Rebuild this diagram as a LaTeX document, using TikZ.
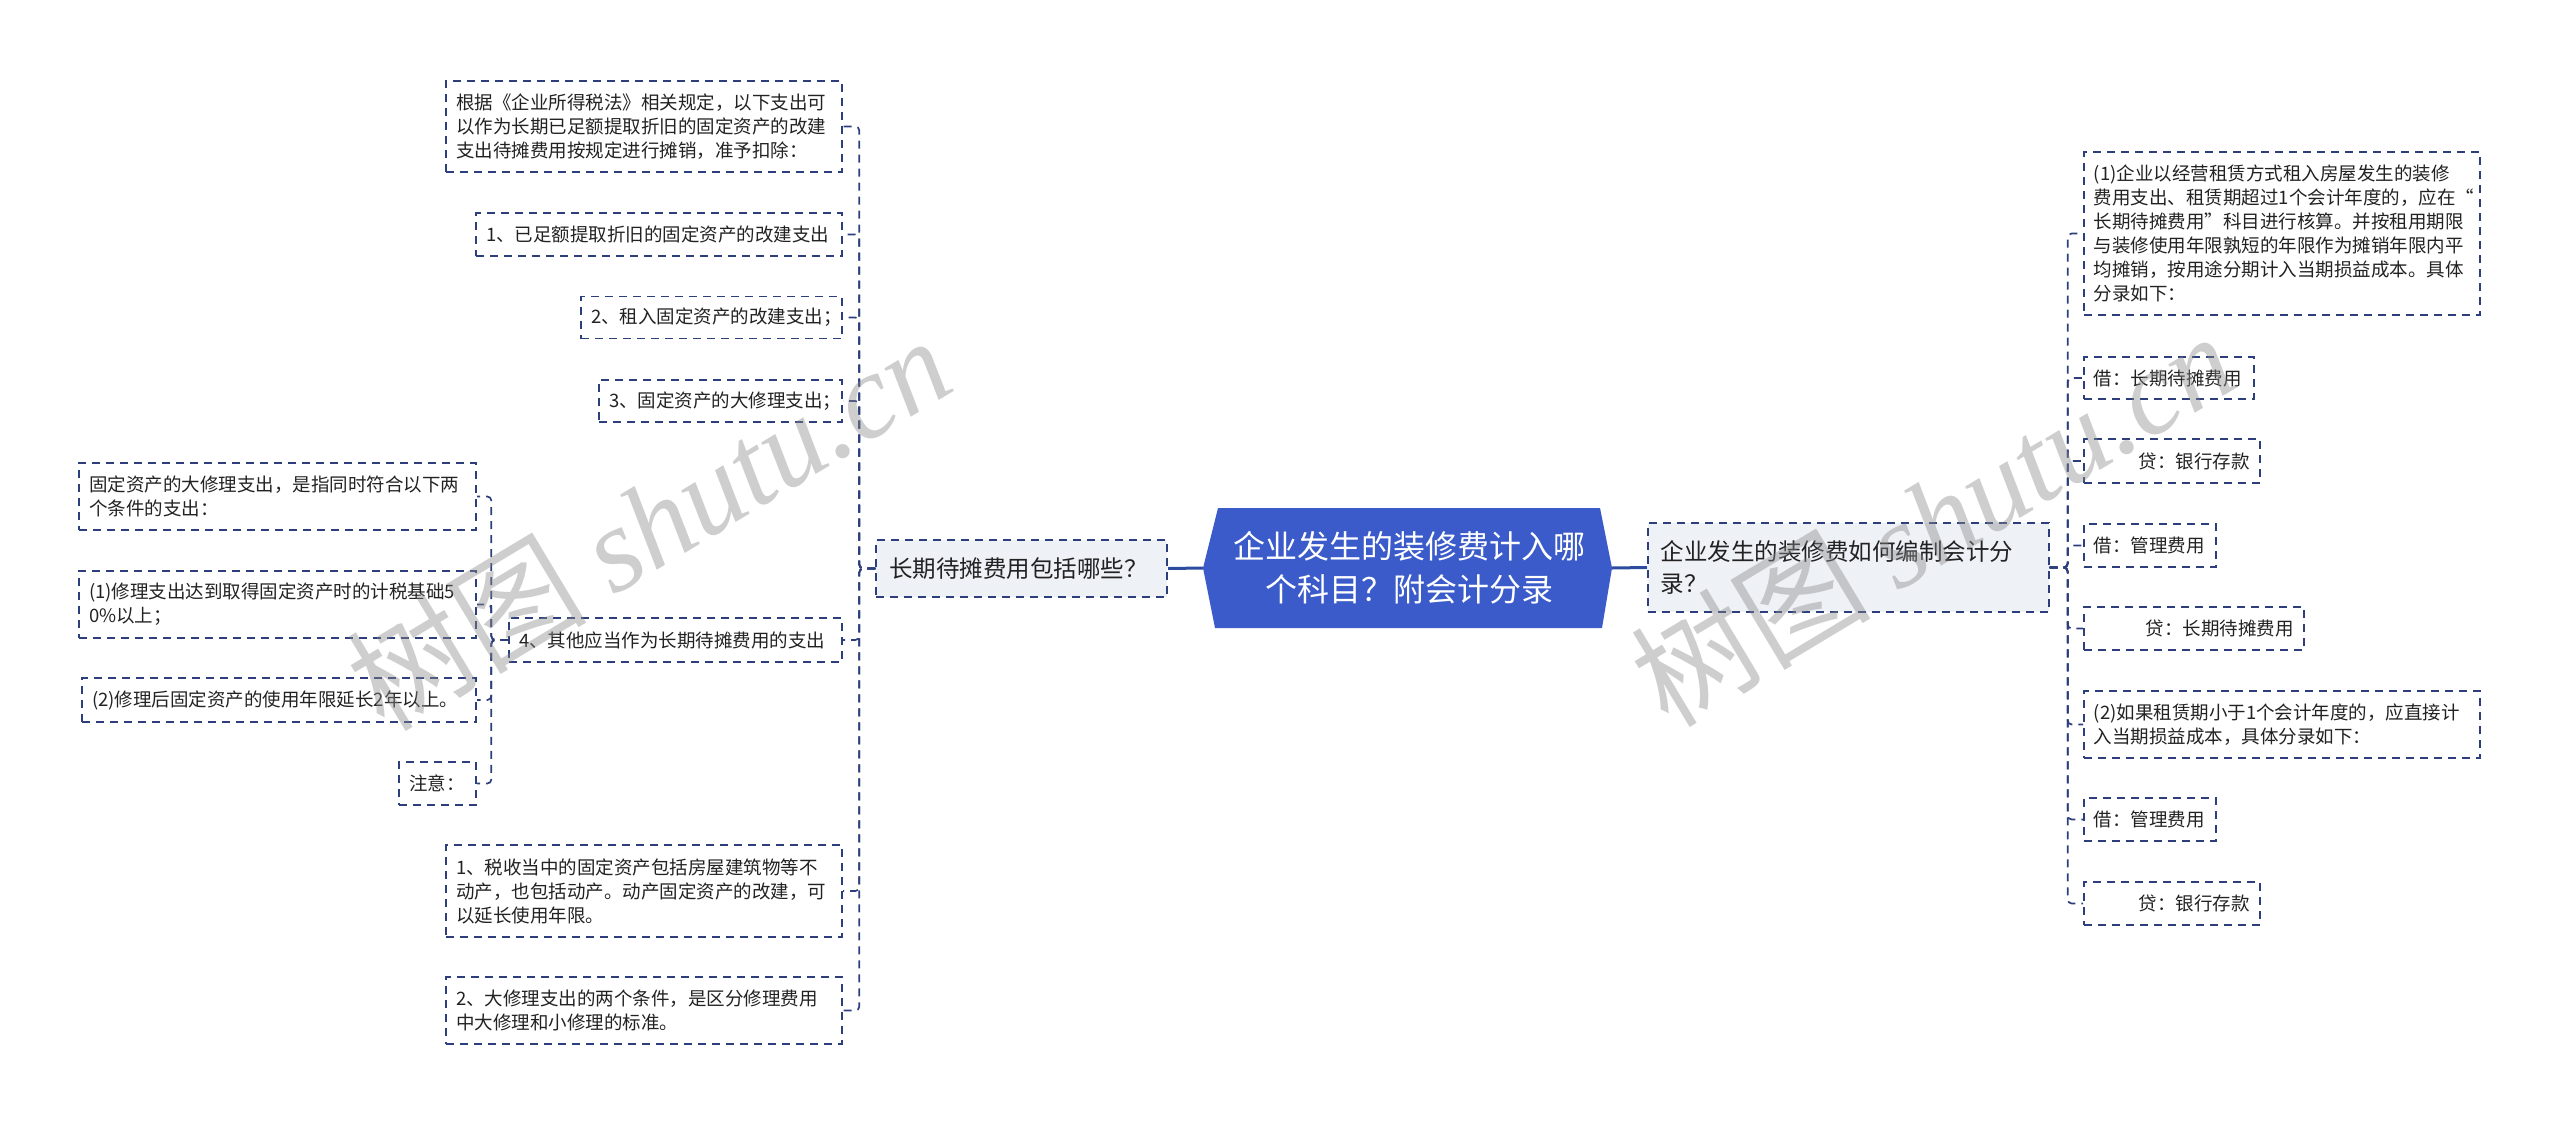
\documentclass[tikz,border=0pt]{standalone}
\usepackage{fontspec}
\setmainfont{Noto Sans CJK SC}
\newfontfamily\wmfont{Liberation Serif}
\usetikzlibrary{calc}
\definecolor{hexblue}{HTML}{3A5BC9}
\definecolor{linkblue}{HTML}{2E4C9E}
\definecolor{dashblue}{HTML}{2C3F7C}
\definecolor{lvfill}{HTML}{EEF1F6}
\definecolor{wmgray}{HTML}{8A8A8A}
\definecolor{txt}{HTML}{222222}
\tikzset{
  leaf/.style={draw=dashblue, line width=1.7pt, dash pattern=on 8pt off 6pt,
    inner xsep=10pt, inner ysep=0pt, align=left, text=txt,
    font=\fontsize{18.5}{24}\selectfont},
  rleaf/.style={leaf, align=right},
  lv/.style={draw=dashblue, fill=lvfill, line width=1.7pt, dash pattern=on 8pt off 6pt,
    inner xsep=13pt, inner ysep=0pt, align=left, text=txt,
    font=\fontsize{23.5}{32}\selectfont},
  conn/.style={draw=dashblue, line width=1.7pt, dash pattern=on 8pt off 6pt, rounded corners=4pt},
  mainlink/.style={draw=linkblue, line width=3pt},
  wm/.style={rotate=31, text=wmgray, opacity=0.42, font=\fontsize{120}{120}\selectfont}
}
\begin{document}
\begin{tikzpicture}[x=1pt,y=-1pt]
\useasboundingbox (0,0) rectangle (2560,1125);

% central hexagon
\fill[hexblue] (1203,568) -- (1218,508) -- (1600,508) -- (1612,568) -- (1602,628) -- (1215,628) -- cycle;
\coordinate (rootL) at (1203,568);
\coordinate (rootR) at (1612,568);
\node[text=white, align=center, font=\fontsize{32}{43}\selectfont, inner sep=0pt] (root) at (1409,568)
  {企业发生的装修费计入哪\\个科目？附会计分录};

% level 1
\node[lv, text width=265pt, minimum height=57pt, anchor=east] (L) at (1168,568.5) {长期待摊费用包括哪些？};
\node[lv, text width=375pt, minimum height=89pt, anchor=west] (R) at (1647,567.5) {企业发生的装修费如何编制会计分\\录？};

\draw[mainlink] (rootL) -- (L.east);
\draw[mainlink] (rootR) -- (R.west);

% left children
\node[leaf, text width=376pt, minimum height=91pt, anchor=east] (n1) at (843,126.5)
  {根据《企业所得税法》相关规定，以下支出可\\以作为长期已足额提取折旧的固定资产的改建\\支出待摊费用按规定进行摊销，准予扣除：};
\node[leaf, text width=346pt, minimum height=43pt, anchor=east] (n2) at (843,234.5)
  {1、已足额提取折旧的固定资产的改建支出};
\node[leaf, text width=241pt, minimum height=42pt, anchor=east] (n3) at (843,317.5)
  {2、租入固定资产的改建支出；};
\node[leaf, text width=223pt, minimum height=42pt, anchor=east] (n4) at (843,401)
  {3、固定资产的大修理支出；};
\node[leaf, text width=313pt, minimum height=44pt, anchor=east] (n5) at (843,640)
  {4、其他应当作为长期待摊费用的支出};
\node[leaf, text width=376pt, minimum height=92pt, anchor=east] (n6) at (843,891)
  {1、税收当中的固定资产包括房屋建筑物等不\\动产，也包括动产。动产固定资产的改建，可\\以延长使用年限。};
\node[leaf, text width=376pt, minimum height=67pt, anchor=east] (n7) at (843,1010.5)
  {2、大修理支出的两个条件，是区分修理费用\\中大修理和小修理的标准。};

% sub-children of n5
\node[leaf, text width=377pt, minimum height=67pt, anchor=east] (s1) at (477,496.5)
  {固定资产的大修理支出，是指同时符合以下两\\个条件的支出：};
\node[leaf, text width=377pt, minimum height=67pt, anchor=east] (s2) at (477,604.5)
  {(1)修理支出达到取得固定资产时的计税基础5\\0\%以上；};
\node[leaf, text width=374pt, minimum height=44pt, anchor=east] (s3) at (477,700)
  {(2)修理后固定资产的使用年限延长2年以上。};
\node[leaf, text width=57pt, minimum height=43pt, anchor=east] (s4) at (477,783.5)
  {注意：};

% right children
\node[leaf, text width=376pt, minimum height=163pt, anchor=west] (r1) at (2083,233.5)
  {(1)企业以经营租赁方式租入房屋发生的装修\\费用支出、租赁期超过1个会计年度的，应在“\\长期待摊费用”科目进行核算。并按租用期限\\与装修使用年限孰短的年限作为摊销年限内平\\均摊销，按用途分期计入当期损益成本。具体\\分录如下：};
\node[leaf, text width=150pt, minimum height=42pt, anchor=west] (r2) at (2083,378)
  {借：长期待摊费用};
\node[rleaf, text width=156pt, minimum height=44pt, anchor=west] (r3) at (2083,461)
  {贷：银行存款};
\node[leaf, text width=112pt, minimum height=43pt, anchor=west] (r4) at (2083,545.5)
  {借：管理费用};
\node[rleaf, text width=200pt, minimum height=43pt, anchor=west] (r5) at (2083,628.5)
  {贷：长期待摊费用};
\node[leaf, text width=376pt, minimum height=67pt, anchor=west] (r6) at (2083,724.5)
  {(2)如果租赁期小于1个会计年度的，应直接计\\入当期损益成本，具体分录如下：};
\node[leaf, text width=112pt, minimum height=43pt, anchor=west] (r7) at (2083,819.5)
  {借：管理费用};
\node[rleaf, text width=156pt, minimum height=43pt, anchor=west] (r8) at (2083,903.5)
  {贷：银行存款};

% connectors left
\foreach \c in {n1,n2,n3,n4,n5,n6,n7}
  \draw[conn] (L.west) -- ++(-16,0) |- (\c.east);
\foreach \c in {s1,s2,s3,s4}
  \draw[conn] (n5.west) -- ++(-17,0) |- (\c.east);
% connectors right
\foreach \c in {r1,r2,r3,r4,r5,r6,r7,r8}
  \draw[conn] (R.east) -- ++(18,0) |- (\c.west);

% watermarks
\node[wm] (wm1) at (648,522) {树图 {\wmfont\itshape shutu.cn}};
\node[wm] (wm2) at (1932,518) {树图 {\wmfont\itshape shutu.cn}};
\end{tikzpicture}
\end{document}
